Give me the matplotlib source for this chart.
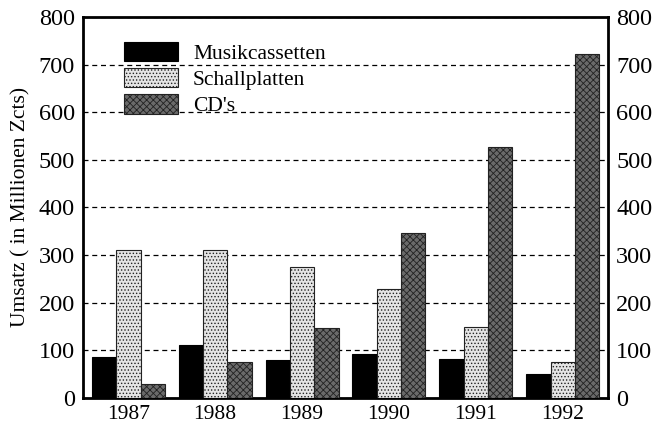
import matplotlib.pyplot as plt
import numpy as np

years = ['1987', '1988', '1989', '1990', '1991', '1992']
musikcassetten = [85, 111, 79, 92, 82, 50]
schallplatten = [311, 311, 274, 229, 148, 75]
cds = [28, 75, 146, 346, 527, 722]
y_ticks = [0, 100, 200, 300, 400, 500, 600, 700, 800]

plt.rcParams['font.family'] = ['Liberation Serif', 'DejaVu Serif']
plt.rcParams['hatch.linewidth'] = 0.6

fig = plt.figure(figsize=(6.55, 4.25), dpi=100)
ax = fig.add_axes([0.127, 0.064, 0.801, 0.896])

x = np.arange(len(years))
w = 0.28
ax.bar(x - w, musikcassetten, w, color='black', edgecolor='black', linewidth=0.8,
       label='Musikcassetten', zorder=3)
ax.bar(x, schallplatten, w, color='#e4e4e4', edgecolor='#222222', hatch='.....',
       linewidth=0.8, label='Schallplatten', zorder=3)
ax.bar(x + w, cds, w, color='#6a6a6a', edgecolor='#222222', hatch='xxxxx',
       linewidth=0.8, label="CD's", zorder=3)

ax.set_xlim(-0.52, 5.52)
ax.set_ylim(0, 800)
ax.set_xticks(x)
ax.set_xticklabels(years, fontsize=15.5)
ax.set_yticks(y_ticks)
ax.tick_params(axis='y', labelsize=17.5, length=0, pad=6,
               left=True, right=True, labelleft=True, labelright=True)
ax.tick_params(axis='x', length=0, pad=5)
ax.yaxis.grid(True, linestyle=(0, (4, 3)), color='black', linewidth=0.9, zorder=0)
ax.set_axisbelow(True)
for s in ax.spines.values():
    s.set_linewidth(2)

ax.set_ylabel('Umsatz ( in Millionen Zcts)', fontsize=15.5, labelpad=6)

ax.legend(loc='upper left', bbox_to_anchor=(0.078, 0.935), frameon=False,
          fontsize=15.5, handlelength=2.5, handleheight=1.0, labelspacing=0.2,
          handletextpad=0.7, borderaxespad=0, borderpad=0)

fig.savefig('out.png', dpi=100)
